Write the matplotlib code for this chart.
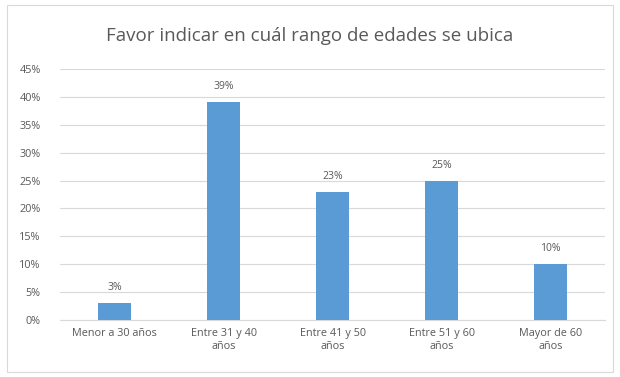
import matplotlib.pyplot as plt
from matplotlib.patches import Rectangle

# Rangos de edad y porcentaje de respuestas
categorias = ['Menor a 30 años', 'Entre 31 y 40\naños', 'Entre 41 y 50\naños',
              'Entre 51 y 60\naños', 'Mayor de 60\naños']
porcentajes = [3, 39, 23, 25, 10]
etiquetas_y = ['0%', '5%', '10%', '15%', '20%', '25%', '30%', '35%', '40%', '45%']

plt.rcParams['font.family'] = ['Open Sans', 'DejaVu Sans']
gris = '#595959'
azul = '#5B9BD5'

fig = plt.figure(figsize=(6.2, 3.77), dpi=100)
ax = fig.add_axes([0.097, 0.151, 0.879, 0.666])

x = range(len(categorias))
ax.bar(x, porcentajes, width=0.3, color=azul, zorder=3)
for i, v in zip(x, porcentajes):
    ax.text(i, v + 1.8, f'{v}%', ha='center', va='bottom', fontsize=7.5, color=gris)

ax.set_xlim(-0.5, len(categorias) - 0.5)
ax.set_ylim(0, 45)
ax.set_yticks(range(0, 50, 5))
ax.set_yticklabels(etiquetas_y)
ax.set_xticks(list(x))
ax.set_xticklabels(categorias)
ax.tick_params(axis='both', length=0, labelsize=7.8, colors=gris)
ax.tick_params(axis='x', pad=6)
ax.tick_params(axis='y', pad=14)

ax.grid(axis='y', color='#D9D9D9', linewidth=0.8, zorder=0)
for s in ['top', 'right', 'left']:
    ax.spines[s].set_visible(False)
ax.spines['bottom'].set_color('#D9D9D9')

fig.text(0.5, 0.905, 'Favor indicar en cuál rango de edades se ubica',
         ha='center', va='center', fontsize=13.5, color=gris)

# borde del área del gráfico
fig.patches.append(Rectangle((0.012, 0.012), 0.976, 0.975, transform=fig.transFigure,
                             fill=False, edgecolor='#D9D9D9', linewidth=0.8))

fig.savefig('out.png', dpi=100, facecolor='white')
